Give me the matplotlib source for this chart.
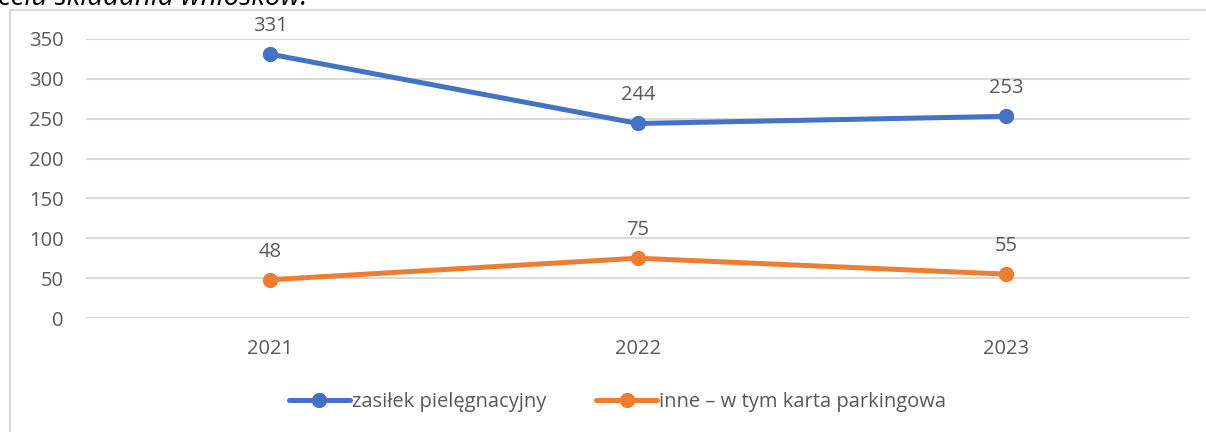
import matplotlib
matplotlib.use("Agg")
import matplotlib.pyplot as plt
from matplotlib.lines import Line2D

years = ["2021", "2022", "2023"]
zasilek = [331, 244, 253]
inne = [48, 75, 55]
series_names = ["zasiłek pielęgnacyjny", "inne – w tym karta parkingowa"]

blue = "#4472C4"
orange = "#ED7D31"
grey_text = "#595959"
grid_col = "#D9D9D9"

plt.rcParams['font.family'] = ['Open Sans', 'DejaVu Sans']

W, H = 1206, 432
fig = plt.figure(figsize=(W / 100, H / 100), dpi=100)

# chart border (only top and left visible)
fig.add_artist(Line2D([10 / W, 10 / W], [0, 1 - 10 / H], color=grid_col, lw=1.5,
                      transform=fig.transFigure))
fig.add_artist(Line2D([10 / W, 1], [1 - 10 / H, 1 - 10 / H], color=grid_col, lw=1.5,
                      transform=fig.transFigure))

# caption of the page, cut off at the top as in the source
fig.text(-0.002, 1 - 5 / H, "celu składania wniosków.", style='italic',
         fontsize=20, color="#000000", va='baseline', ha='left', zorder=5)

ax = fig.add_axes([86 / W, 1 - 318 / H, (1190 - 86) / W, (318 - 39) / H])
x = list(range(len(years)))

ax.plot(x, zasilek, color=blue, lw=3.6, marker='o', markersize=10,
        solid_capstyle='round', label=series_names[0], zorder=3)
ax.plot(x, inne, color=orange, lw=3.6, marker='o', markersize=10,
        solid_capstyle='round', label=series_names[1], zorder=3)

for xi, v in zip(x, zasilek):
    ax.annotate(str(v), (xi, v), xytext=(0, 13), textcoords='offset points',
                ha='center', va='bottom', fontsize=14.5, color=grey_text)
for xi, v in zip(x, inne):
    ax.annotate(str(v), (xi, v), xytext=(0, 13), textcoords='offset points',
                ha='center', va='bottom', fontsize=14.5, color=grey_text)

ax.set_xlim(-0.5, len(years) - 0.5)
ax.set_ylim(0, 350)
ax.set_yticks(range(0, 351, 50))
ax.set_xticks(x)
ax.set_xticklabels(years)
ax.yaxis.grid(True, color=grid_col, lw=1.5)
ax.set_axisbelow(True)
for s in ax.spines.values():
    s.set_visible(False)
ax.tick_params(length=0, labelsize=14.5, labelcolor=grey_text)
ax.tick_params(axis='y', pad=16)
ax.tick_params(axis='x', pad=15)

leg = fig.legend(loc='center', bbox_to_anchor=(0.512, 1 - 402 / H), ncol=2,
                 frameon=False, fontsize=14.5, handlelength=3.0, handletextpad=0.1,
                 columnspacing=2.5)
for t in leg.get_texts():
    t.set_color(grey_text)

fig.savefig("out.png", dpi=100)
